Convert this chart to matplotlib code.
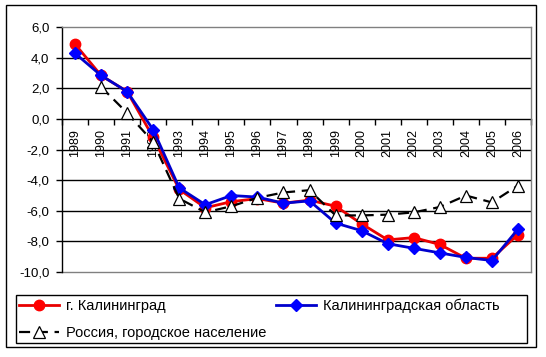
import matplotlib
matplotlib.use("Agg")
import matplotlib.pyplot as plt
from matplotlib.patches import Rectangle
from matplotlib.lines import Line2D
import numpy as np

years = ["1989", "1990", "1991", "1992", "1993", "1994", "1995", "1996", "1997",
         "1998", "1999", "2000", "2001", "2002", "2003", "2004", "2005", "2006"]
kaliningrad_city = [4.9, 2.85, 1.8, -1.2, -4.6, -5.8, -5.4, -5.2, -5.5,
                    -5.3, -5.7, -6.85, -7.9, -7.75, -8.2, -9.1, -9.1, -7.55]
kaliningrad_region = [4.3, 2.85, 1.8, -0.7, -4.5, -5.6, -5.0, -5.1, -5.5,
                      -5.35, -6.8, -7.3, -8.15, -8.45, -8.75, -9.05, -9.25, -7.2]
russia_urban = [None, 2.1, 0.4, -1.5, -5.2, -6.1, -5.7, -5.15, -4.8,
                -4.65, -6.3, -6.3, -6.25, -6.1, -5.75, -5.0, -5.45, -4.35]
yticks = [6, 4, 2, 0, -2, -4, -6, -8, -10]
labels = ["г. Калининград", "Калининградская область", "Россия, городское население"]

plt.rcParams['font.family'] = ['Liberation Sans', 'DejaVu Sans']

W, H = 546, 357
fig = plt.figure(figsize=(W / 100, H / 100), dpi=100)
fig.patch.set_facecolor('white')

def px(x0, y0, x1, y1):
    return [x0 / W, 1 - y1 / H, (x1 - x0) / W, (y1 - y0) / H]

ax = fig.add_axes(px(62, 27.3, 531, 272))
x = np.arange(len(years))

ax.set_xlim(-0.5, len(years) - 0.5)
ax.set_ylim(-10, 6)

for v in [4, 2, -2, -4, -6, -8]:
    ax.axhline(v, color='black', lw=1.0, zorder=1)

r_y = np.array([np.nan if v is None else v for v in russia_urban], dtype=float)

l1, = ax.plot(x, kaliningrad_city, color='#e80000', lw=2.0, marker='o', ms=7.5,
              markerfacecolor='#ff0000', markeredgecolor='#ff0000', zorder=3)
l2, = ax.plot(x, kaliningrad_region, color='#0000cc', lw=2.0, marker='D', ms=6.5,
              markerfacecolor='#0000ff', markeredgecolor='#0000ff', zorder=4)
l3, = ax.plot(x, r_y, color='black', lw=1.6, ls=(0, (5, 3)), marker='^', ms=9,
              markerfacecolor='white', markeredgecolor='black', markeredgewidth=0.9, zorder=5)

# spines
for s in ['top', 'right']:
    ax.spines[s].set_color('#808080')
    ax.spines[s].set_linewidth(1.0)
ax.spines['left'].set_color('black')
ax.spines['left'].set_linewidth(1.0)
ax.spines['bottom'].set_position(('data', 0))
ax.spines['bottom'].set_color('black')
ax.spines['bottom'].set_linewidth(1.0)
ax.spines['bottom'].set_zorder(2)
ax.add_line(Line2D([0, 1], [0, 0], transform=ax.transAxes, color='#808080', lw=1.0, clip_on=False))

ax.set_yticks(yticks)
ax.set_yticklabels([f"{v:.1f}".replace('.', ',') for v in yticks], fontsize=9.5)
ax.tick_params(axis='y', direction='out', length=4, width=1, pad=5)

ax.set_xticks(np.arange(-0.5, len(years), 1.0))
ax.set_xticklabels([])
ax.tick_params(axis='x', which='major', direction='out', length=4, width=1)
ax.set_xticks(x, minor=True)
ax.set_xticklabels(years, minor=True, rotation=90, fontsize=9)
ax.tick_params(axis='x', which='minor', length=0, pad=7)

# legend frame
fig.add_artist(Rectangle((16 / W, 1 - 343 / H), (527 - 16) / W, (343 - 295) / H,
                         transform=fig.transFigure, fill=False, edgecolor='black', lw=1.0))
leg = fig.legend([l1, l3, l2], [labels[0], labels[2], labels[1]], ncol=2,
                 loc='upper left', bbox_to_anchor=(19 / W, 1 - 299 / H),
                 frameon=False, fontsize=10.5,
                 handlelength=2.75, handletextpad=0.45, borderpad=0.0, labelspacing=0.85,
                 columnspacing=0.7, borderaxespad=0)

# outer border
fig.add_artist(Rectangle((6 / W, 1 - 347 / H), (536 - 6) / W, (347 - 5) / H,
                         transform=fig.transFigure, fill=False, edgecolor='black', lw=1.0))

fig.savefig("out.png", dpi=100, facecolor='white')
